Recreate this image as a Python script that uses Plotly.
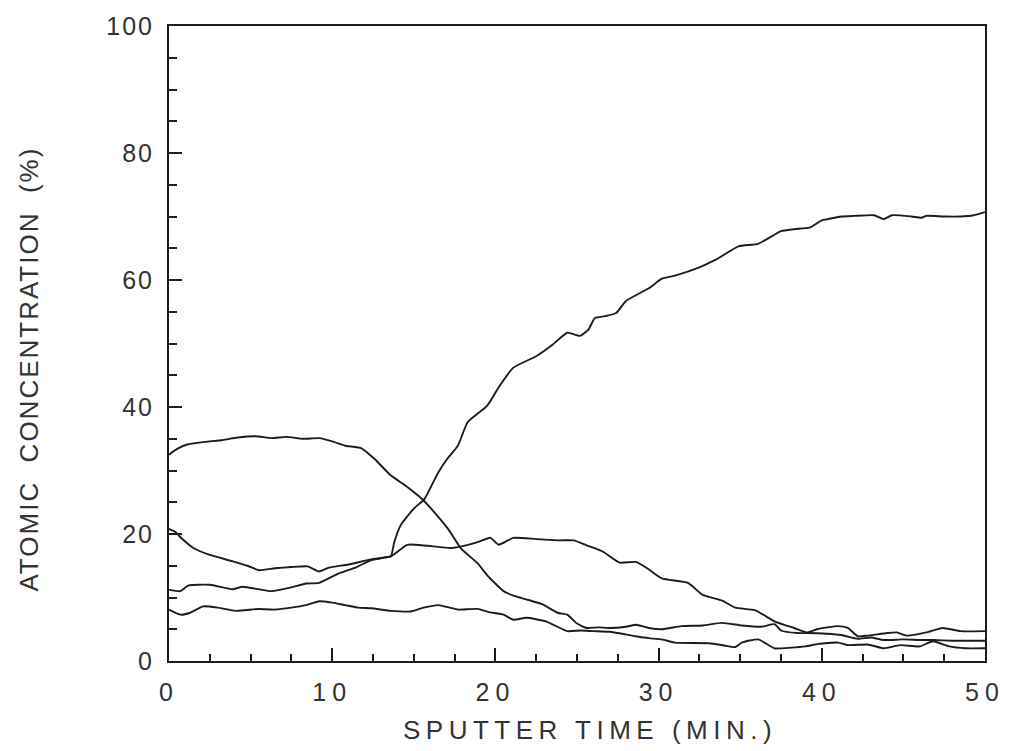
import plotly.graph_objects as go

# ---- data ----
time_a = [0, 0.4, 0.7, 1.5, 2.5, 3.9, 4.8, 5.5, 6.5, 7.5, 8.5, 9.2, 9.8, 11.0, 12.4, 13.2, 13.6,
          13.8, 14.2, 15.0, 15.65, 16.5, 17.1, 17.7, 18.3, 19.5, 20.3, 21.1, 22.5, 23.5, 24.4, 25.2,
          25.7, 26.1, 26.7, 27.4, 28.0, 29.4, 30.2, 31.0, 32.5, 33.5, 34.9, 36.1, 37.5, 38.3, 39.3,
          40.0, 40.4, 41.2, 42.0, 43.2, 43.8, 44.3, 45.5, 46.1, 46.4, 47.5, 48.5, 49.3, 50]
conc_a = [20.8, 20.3, 19.5, 17.8, 16.7, 15.7, 15.0, 14.3, 14.6, 14.8, 14.9, 14.1, 14.7, 15.2, 16.0, 16.3, 16.5,
          18.7, 21.4, 24.0, 25.5, 29.7, 32.0, 33.9, 37.6, 40.2, 43.5, 46.2, 48.0, 49.8, 51.7, 51.2,
          52.2, 54.0, 54.3, 54.8, 56.7, 58.7, 60.2, 60.7, 62.0, 63.2, 65.3, 65.7, 67.7, 68.0, 68.3,
          69.4, 69.6, 70.0, 70.1, 70.2, 69.6, 70.2, 70.0, 69.8, 70.1, 70.0, 70.0, 70.2, 70.7]

time_b = [0, 0.7, 1.2, 2.5, 3.9, 4.5, 6.3, 7.5, 8.4, 9.2, 10.4, 11.5, 12.4, 13.6, 14.6, 15.65, 17.3,
          18.0, 19.0, 19.7, 20.2, 21.1, 22.5, 23.9, 24.8, 25.6, 26.6, 27.6, 28.6, 29.3, 30.2, 31.8,
          32.7, 33.9, 34.7, 35.9, 37.1, 38.3, 39.1, 39.7, 41.0, 41.6, 42.2, 42.8, 44.0, 44.6, 45.2,
          46.4, 47.4, 48.5, 50]
conc_b = [11.2, 11.0, 11.9, 12.0, 11.3, 11.7, 11.0, 11.6, 12.2, 12.3, 13.8, 14.8, 15.9, 16.5, 18.3, 18.2, 17.8,
          18.1, 18.8, 19.4, 18.3, 19.4, 19.2, 19.0, 19.0, 18.2, 17.2, 15.5, 15.6, 14.6, 13.0, 12.3,
          10.4, 9.5, 8.4, 8.0, 6.25, 5.2, 4.5, 5.0, 5.5, 5.2, 3.9, 4.0, 4.4, 4.5, 4.0,
          4.5, 5.2, 4.7, 4.7]

time_c = [0, 0.5, 1.1, 2.2, 3.3, 4.2, 5.3, 6.3, 7.2, 8.2, 9.2, 10.0, 10.8, 11.8, 12.6, 13.6, 14.5,
          15.55, 16.3, 17.1, 17.9, 18.9, 19.5, 20.5, 21.2, 21.9, 22.9, 23.8, 24.4, 25.0, 25.6, 26.3,
          27.0, 28.0, 28.6, 29.4, 30.2, 31.4, 32.7, 33.9, 35.1, 36.3, 37.1, 37.5, 38.5, 39.1, 40.3,
          41.2, 42.2, 43.0, 43.8, 45.0, 46.0, 46.8, 48.0, 49.7, 50]
conc_c = [32.5, 33.4, 34.1, 34.5, 34.8, 35.2, 35.4, 35.1, 35.3, 35.0, 35.1, 34.6, 33.9, 33.5, 31.8, 29.2, 27.6,
          25.4, 23.3, 20.8, 17.7, 15.4, 13.5, 11.0, 10.2, 9.7, 8.9, 7.6, 7.3, 5.9, 5.2, 5.3,
          5.2, 5.4, 5.7, 5.2, 5.0, 5.5, 5.6, 6.0, 5.6, 5.4, 5.8, 4.8, 4.4, 4.4, 4.3,
          4.1, 3.5, 3.7, 3.3, 3.4, 3.3, 3.3, 3.2, 3.2, 3.2]

time_d = [0, 0.7, 1.3, 2.1, 3.0, 4.1, 5.5, 6.5, 7.5, 8.4, 9.2, 10.0, 10.8, 11.6, 12.4, 13.6, 14.8,
          15.6, 16.5, 17.2, 17.7, 18.9, 19.6, 20.5, 21.1, 21.9, 23.1, 24.4, 25.2, 26.0, 27.0, 28.6,
          29.4, 30.2, 31.0, 33.1, 34.1, 34.7, 35.1, 36.1, 37.1, 38.1, 39.0, 39.8, 41.0, 41.6, 42.8,
          43.8, 44.8, 46.0, 46.8, 47.8, 48.8, 50]
conc_d = [8.1, 7.3, 7.6, 8.6, 8.4, 7.9, 8.2, 8.1, 8.4, 8.8, 9.4, 9.2, 8.8, 8.4, 8.3, 7.9, 7.8,
          8.4, 8.8, 8.4, 8.1, 8.2, 7.7, 7.3, 6.5, 6.8, 6.25, 4.7, 4.8, 4.7, 4.6, 3.9,
          3.6, 3.4, 2.9, 2.8, 2.4, 2.2, 2.9, 3.4, 2.0, 2.1, 2.3, 2.7, 2.9, 2.5, 2.6,
          2.0, 2.5, 2.3, 3.1, 2.3, 2.0, 2.0]

x_ticks = [0, 10, 20, 30, 40, 50]
y_ticks = [0, 20, 40, 60, 80, 100]
x_title = "SPUTTER TIME (MIN.)"
y_title = "ATOMIC\u00a0\u00a0CONCENTRATION\u00a0\u00a0(%)"

FONT = "Liberation Sans, Arial, Helvetica, sans-serif"
LINE = "#1c1c1c"
TEXT = "#333333"

fig = go.Figure()
for t, c in [(time_a, conc_a), (time_b, conc_b), (time_c, conc_c), (time_d, conc_d)]:
    fig.add_trace(go.Scatter(x=t, y=c, mode="lines",
                             line=dict(color=LINE, width=1.9, shape="spline", smoothing=0.5),
                             showlegend=False))

fig.update_layout(
    width=1017, height=751,
    margin=dict(l=169, r=25, t=20, b=90),
    paper_bgcolor="white", plot_bgcolor="white",
    font=dict(family=FONT, color=TEXT),
)

fig.update_xaxes(
    range=[0, 50], showgrid=False, zeroline=False,
    showline=True, linecolor=LINE, linewidth=2, mirror=True,
    tickmode="array", tickvals=x_ticks,
    ticktext=['<span style="letter-spacing:6px">%d</span>' % v for v in x_ticks],
    ticks="inside", ticklen=13, tickwidth=2, tickcolor=LINE,
    minor=dict(ticks="inside", dtick=2.5, tick0=0, ticklen=7, tickwidth=2, tickcolor=LINE),
    tickfont=dict(family=FONT, size=25, color=TEXT),
    ticklabelstandoff=8,
)
fig.update_yaxes(
    range=[0, 100], showgrid=False, zeroline=False,
    showline=True, linecolor=LINE, linewidth=2, mirror=True,
    tickmode="array", tickvals=y_ticks,
    ticktext=['<span style="letter-spacing:2px">%d</span>' % v for v in y_ticks],
    ticks="inside", ticklen=13, tickwidth=2, tickcolor=LINE,
    minor=dict(ticks="inside", dtick=5, tick0=0, ticklen=8, tickwidth=2, tickcolor=LINE),
    tickfont=dict(family=FONT, size=25, color=TEXT),
    ticklabelstandoff=8,
)

fig.add_annotation(
    text='<span style="letter-spacing:5.5px">%s</span>' % x_title,
    xref="paper", yref="paper", x=0.516, y=-0.108,
    xanchor="center", yanchor="middle", showarrow=False,
    font=dict(family=FONT, size=26, color=TEXT),
)
fig.add_annotation(
    text='<span style="letter-spacing:2px">%s</span>' % y_title,
    xref="paper", yref="paper", x=-0.172, y=0.46,
    xanchor="center", yanchor="middle", showarrow=False, textangle=-90,
    font=dict(family=FONT, size=26, color=TEXT),
)

fig.write_html("out.html")
